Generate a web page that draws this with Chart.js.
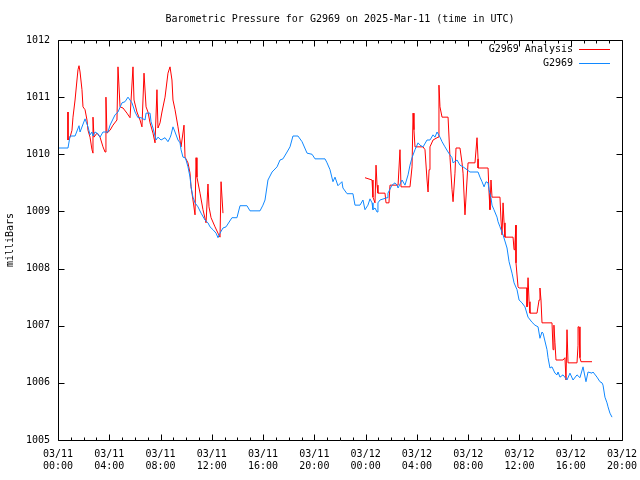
<!DOCTYPE html>
<html><head><meta charset="utf-8">
<script src="https://cdn.jsdelivr.net/npm/chart.js@4"></script>
<style>html,body{margin:0;padding:0;background:#fff}canvas{display:block}</style>
</head><body>
<canvas id="c" width="640" height="480"></canvas>
<script>
const titleText = 'Barometric Pressure for G2969 on 2025-Mar-11 (time in UTC)';
const yAxisLabel = 'milliBars';
const seriesNames = ['G2969 Analysis', 'G2969'];
const seriesColors = ['#ff0000', '#1088ff'];
const xTickDates = ['03/11','03/11','03/11','03/11','03/11','03/11','03/12','03/12','03/12','03/12','03/12','03/12'];
const xTickTimes = ['00:00','04:00','08:00','12:00','16:00','20:00','00:00','04:00','08:00','12:00','16:00','20:00'];
const yMin = 1005, yMax = 1012;

// hours since 03/11 00:00 UTC
const stationTimes = [
0.00,0.78,0.94,1.33,1.64,1.72,2.11,2.34,2.50,2.65,
2.73,2.89,3.12,3.28,3.51,3.90,4.06,4.45,4.68,4.99,
5.23,5.46,5.77,6.01,6.24,6.48,6.79,6.87,7.18,7.26,
7.41,7.65,7.80,8.04,8.35,8.58,8.74,8.82,8.97,9.13,
9.36,9.52,9.60,9.75,9.91,9.99,10.14,10.30,10.38,10.53,
10.69,10.92,11.16,11.47,11.70,11.86,12.09,12.33,12.48,12.64,
12.87,13.11,13.57,13.96,14.20,14.74,14.98,15.76,15.99,16.15,
16.38,16.70,17.09,17.32,17.55,17.87,18.10,18.33,18.72,19.04,
19.43,19.82,20.05,20.83,20.99,21.22,21.45,21.61,21.84,22.15,
22.23,22.55,23.01,23.17,23.56,23.79,23.95,24.18,24.34,24.50,
24.57,24.73,24.89,24.96,25.12,25.67,25.74,26.06,26.29,26.45,
26.53,26.84,27.07,27.31,27.46,27.62,27.85,28.09,28.24,28.48,
28.79,29.02,29.26,29.41,29.57,29.80,29.96,30.19,30.43,30.58,
30.74,30.82,31.13,31.36,31.60,31.91,32.14,32.77,32.92,33.08,
33.24,33.39,33.55,33.63,33.78,33.86,34.01,34.25,34.33,34.48,
34.72,35.03,35.19,35.42,35.58,35.81,35.97,36.20,36.43,36.67,
36.98,37.21,37.45,37.60,37.76,37.84,38.15,38.23,38.38,38.54,
38.77,38.93,39.01,39.16,39.40,39.71,39.94,40.18,40.49,40.72,
40.96,41.19,41.35,41.66,41.74,42.05,42.28,42.44,42.52,42.67,
42.83,42.91,43.06,43.22];
const stationValues = [
1010.11,1010.11,1010.32,1010.32,1010.50,1010.39,1010.62,1010.48,1010.34,1010.39,
1010.32,1010.39,1010.36,1010.30,1010.39,1010.39,1010.51,1010.69,1010.74,1010.90,
1010.92,1011.00,1010.90,1010.74,1010.64,1010.64,1010.60,1010.72,1010.72,1010.57,
1010.46,1010.25,1010.30,1010.25,1010.29,1010.22,1010.29,1010.34,1010.48,1010.39,
1010.25,1010.20,1010.08,1009.95,1009.94,1009.90,1009.78,1009.60,1009.43,1009.25,
1009.15,1009.08,1008.97,1008.85,1008.80,1008.73,1008.68,1008.62,1008.54,1008.62,
1008.71,1008.73,1008.89,1008.89,1009.10,1009.10,1009.01,1009.01,1009.11,1009.20,
1009.55,1009.69,1009.78,1009.90,1009.92,1010.04,1010.13,1010.32,1010.32,1010.22,
1010.02,1010.00,1009.92,1009.92,1009.85,1009.73,1009.52,1009.60,1009.45,1009.52,
1009.41,1009.31,1009.31,1009.11,1009.11,1009.20,1009.03,1009.11,1009.22,1009.15,
1009.03,1009.06,1008.99,1009.15,1009.20,1009.24,1009.32,1009.46,1009.50,1009.46,
1009.41,1009.55,1009.46,1009.64,1009.81,1009.94,1010.08,1010.20,1010.16,1010.13,
1010.25,1010.25,1010.34,1010.30,1010.39,1010.30,1010.22,1010.13,1010.04,1009.99,
1009.94,1009.85,1009.90,1009.81,1009.78,1009.73,1009.69,1009.69,1009.60,1009.52,
1009.43,1009.52,1009.50,1009.38,1009.24,1009.11,1009.03,1008.90,1008.82,1008.73,
1008.59,1008.36,1008.12,1007.92,1007.75,1007.63,1007.45,1007.40,1007.33,1007.15,
1007.06,1007.01,1006.98,1006.78,1006.89,1006.87,1006.58,1006.44,1006.26,1006.28,
1006.17,1006.14,1006.19,1006.10,1006.14,1006.05,1006.17,1006.05,1006.14,1006.09,
1006.28,1006.02,1006.19,1006.17,1006.19,1006.10,1006.02,1006.00,1005.96,1005.75,
1005.65,1005.58,1005.47,1005.40];

const analysisTimes = [
0.78,0.78,0.94,1.09,1.17,1.33,1.48,1.56,1.64,1.72,
1.87,1.95,2.11,2.26,2.34,2.50,2.65,2.73,2.73,2.81,
3.04,3.28,3.51,3.67,3.74,3.82,4.06,4.29,4.60,4.68,
4.84,5.07,5.38,5.62,5.85,5.93,6.16,6.40,6.55,6.71,
6.87,7.02,7.18,7.41,7.57,7.72,7.80,7.96,8.11,8.35,
8.58,8.74,8.89,8.97,9.13,9.36,9.60,9.83,9.91,10.14,
10.30,10.38,10.53,10.69,10.77,10.84,11.08,11.31,11.55,11.70,
11.78,11.94,12.25,12.48,12.64,12.72,12.87,
18.00,
23.95,24.50,24.57,24.73,24.81,24.89,24.96,25.51,25.59,25.82,
25.90,26.53,26.68,26.76,27.46,27.62,27.70,27.77,27.85,28.48,
28.63,28.79,28.87,28.95,29.02,29.26,29.65,29.72,29.80,29.96,
30.43,30.58,30.74,30.82,30.97,31.05,31.36,31.52,31.60,31.75,
31.91,31.99,32.53,32.69,32.77,32.77,33.55,33.63,33.70,33.78,
33.86,34.48,34.56,34.64,34.72,34.80,34.87,35.50,35.58,35.65,
35.73,35.73,35.89,35.97,36.59,36.59,36.67,36.75,36.82,37.37,
37.53,37.60,37.68,37.76,38.54,38.62,38.69,38.77,38.85,39.40,
39.55,39.63,39.71,39.79,40.49,40.57,40.57,40.65,40.72,40.80,
41.66];
const analysisValues = [
1010.74,1010.25,1010.30,1010.42,1010.65,1010.95,1011.30,1011.48,1011.55,1011.44,
1011.13,1010.83,1010.78,1010.60,1010.42,1010.30,1010.08,1010.02,1010.65,1010.30,
1010.37,1010.30,1010.13,1010.04,1011.00,1010.37,1010.42,1010.51,1010.60,1011.53,
1010.83,1010.81,1010.72,1010.64,1011.53,1010.95,1010.74,1010.60,1010.48,1011.42,
1010.83,1010.74,1010.55,1010.37,1010.20,1011.13,1010.46,1010.55,1010.74,1011.00,
1011.42,1011.53,1011.30,1010.95,1010.78,1010.48,1010.13,1010.51,1009.95,1009.85,
1009.67,1009.43,1009.20,1008.94,1009.94,1009.60,1009.32,1009.03,1008.80,1009.48,
1009.08,1008.89,1008.73,1008.62,1008.55,1009.52,1008.97,
null,
1009.59,1009.55,1009.25,1009.15,1009.81,1009.46,1009.32,1009.32,1009.15,1009.15,
1009.46,1009.46,1010.08,1009.43,1009.43,1009.78,1010.72,1010.43,1010.13,1010.13,
1010.08,1009.55,1009.34,1009.73,1010.13,1010.25,1010.30,1011.21,1010.83,1010.65,
1010.65,1009.95,1009.38,1009.17,1009.67,1010.11,1010.11,1009.85,1009.67,1008.94,
1009.55,1009.85,1009.85,1010.29,1009.92,1009.76,1009.76,1009.32,1009.03,1009.55,
1009.25,1009.25,1008.85,1008.59,1009.15,1008.80,1008.55,1008.55,1008.33,1008.45,
1008.76,1008.10,1007.68,1007.66,1007.66,1007.33,1007.84,1007.42,1007.22,1007.22,
1007.45,1007.66,1007.45,1007.05,1007.05,1006.58,1007.01,1006.70,1006.40,1006.40,
1006.44,1006.05,1006.93,1006.35,1006.35,1006.66,1006.98,1006.98,1006.44,1006.37,
1006.37];

const FONT = "'DejaVu Sans Mono', 'Liberation Mono', monospace";
Chart.defaults.color = '#000';
Chart.defaults.font.family = FONT;
Chart.defaults.font.size = 10;

const toPoints = (ts, vs) => ts.map((t, i) => ({x: t, y: vs[i]}));

const framePlugin = {
  id: 'frame',
  afterDatasetsDraw(chart) {
    const {ctx, chartArea: a, scales: {x, y}} = chart;
    const L = Math.round(a.left) + 0.5, R = Math.round(a.right) + 0.5;
    const T = Math.round(a.top) + 0.5, B = Math.round(a.bottom) + 0.5;
    ctx.save();
    ctx.strokeStyle = '#000';
    ctx.lineWidth = 1;
    ctx.beginPath();
    ctx.rect(L, T, R - L, B - T);
    for (let h = x.min; h <= x.max; h += 1) {
      const p = Math.round(x.getPixelForValue(h)) + 0.5;
      const len = (h % 4 === 0) ? 6 : 3;
      ctx.moveTo(p, B); ctx.lineTo(p, B - len);
      ctx.moveTo(p, T); ctx.lineTo(p, T + len);
    }
    for (let v = y.min; v <= y.max; v += 1) {
      const p = Math.round(y.getPixelForValue(v)) + 0.5;
      ctx.moveTo(L, p); ctx.lineTo(L + 6, p);
      ctx.moveTo(R, p); ctx.lineTo(R - 6, p);
    }
    ctx.stroke();
    ctx.restore();
  }
};

const legendPlugin = {
  id: 'gpLegend',
  afterDraw(chart) {
    const {ctx, chartArea: a} = chart;
    ctx.save();
    ctx.font = '10px ' + FONT;
    ctx.textAlign = 'right';
    ctx.textBaseline = 'middle';
    const lineEnd = a.right - 12, lineStart = lineEnd - 31;
    seriesNames.forEach((name, i) => {
      const yy = a.top + 9 + i * 14;
      ctx.fillStyle = '#000';
      ctx.fillText(name, lineStart - 6, yy);
      ctx.strokeStyle = seriesColors[i];
      ctx.lineWidth = 1;
      ctx.beginPath();
      ctx.moveTo(lineStart, Math.round(yy) + 0.5);
      ctx.lineTo(lineEnd, Math.round(yy) + 0.5);
      ctx.stroke();
    });
    ctx.restore();
  }
};

new Chart(document.getElementById('c'), {
  type: 'line',
  data: {
    datasets: [
      {label: seriesNames[0], data: toPoints(analysisTimes, analysisValues),
       borderColor: seriesColors[0], borderWidth: 1, pointRadius: 0, tension: 0, spanGaps: false, order: 2},
      {label: seriesNames[1], data: toPoints(stationTimes, stationValues),
       borderColor: seriesColors[1], borderWidth: 1, pointRadius: 0, tension: 0, order: 1}
    ]
  },
  options: {
    responsive: false,
    animation: false,
    devicePixelRatio: 1,
    layout: {padding: {left: 0, right: 18, top: 0, bottom: 0}},
    plugins: {
      legend: {display: false},
      tooltip: {enabled: false},
      title: {display: true, text: titleText, fullSize: false, color: '#000',
              font: {family: FONT, size: 10, weight: 'normal', lineHeight: 1.2},
              padding: {top: 13, bottom: 15}}
    },
    scales: {
      x: {
        type: 'linear', min: 0, max: 44,
        grid: {display: false, drawTicks: false},
        border: {display: false},
        ticks: {stepSize: 4, autoSkip: false, maxRotation: 0, padding: 8, color: '#000',
                font: {family: FONT, size: 10, lineHeight: 1.2},
                callback: (v) => { const i = Math.round(v / 4); return [xTickDates[i], xTickTimes[i]]; }},
        afterFit: (s) => { s.height = 40; s.paddingLeft = 0; s.paddingRight = 0; }
      },
      y: {
        type: 'linear', min: yMin, max: yMax,
        grid: {display: false, drawTicks: false},
        border: {display: false},
        ticks: {stepSize: 1, padding: 8, color: '#000', font: {family: FONT, size: 10},
                callback: (v) => String(v)},
        title: {display: true, text: yAxisLabel, color: '#000', font: {family: FONT, size: 10, lineHeight: 1.2}, padding: {top: 4, bottom: 0}},
        afterFit: (s) => { s.width = 58; s.paddingTop = 0; s.paddingBottom = 0; }
      }
    }
  },
  plugins: [framePlugin, legendPlugin]
});
</script>
</body></html>
